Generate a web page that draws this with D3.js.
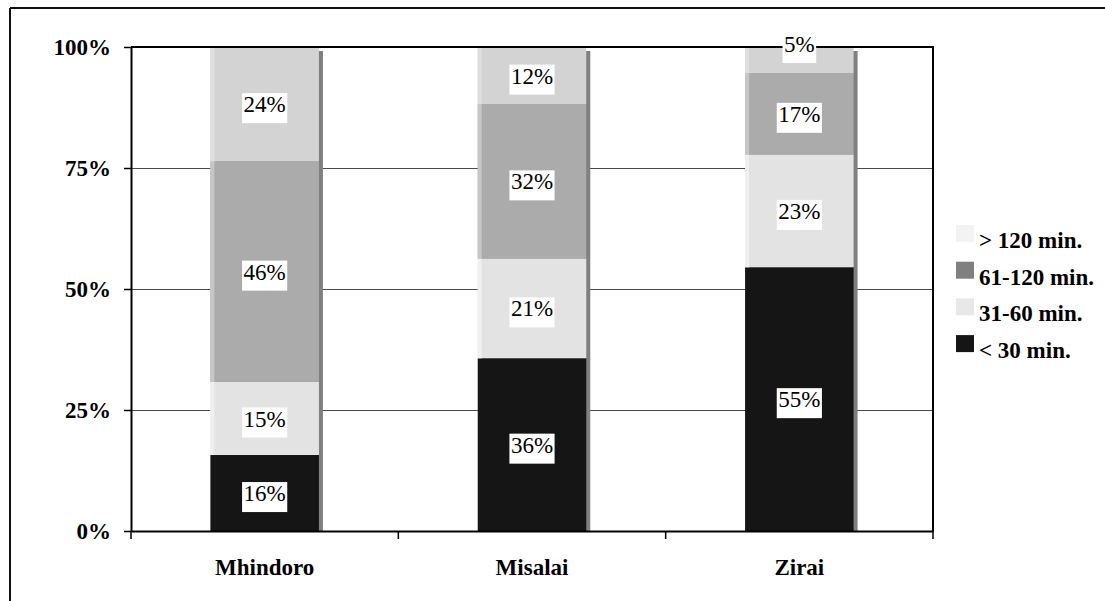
<!DOCTYPE html>
<html>
<head>
<meta charset="utf-8">
<script src="https://cdn.jsdelivr.net/npm/d3@7/dist/d3.min.js"></script>
<style>
  html, body { margin: 0; padding: 0; background: #fff; }
  svg { display: block; font-family: "Liberation Serif", "Times New Roman", serif; }
</style>
</head>
<body>
<svg id="chart" width="1105" height="601"></svg>
<script>
// ---- data ----
const categories = ["Mhindoro", "Misalai", "Zirai"];
const seriesNames = ["< 30 min.", "31-60 min.", "61-120 min.", "> 120 min."];
const lt30    = [15.7, 35.7, 54.5];
const m31to60 = [15.1, 20.6, 23.3];
const m61to120= [45.6, 31.9, 16.8];
const gt120   = [23.6, 11.8, 5.4];
const yTickValues = [0, 25, 50, 75, 100];
const legendOrder = ["> 120 min.", "61-120 min.", "31-60 min.", "< 30 min."];

const seriesValues = [lt30, m31to60, m61to120, gt120];

// ---- layout ----
const svg = d3.select("#chart");
const X0 = 131, X1 = 933, Y0 = 531, Y1 = 47;

const defs = svg.append("defs");
defs.append("clipPath").attr("id", "plotClip").append("rect")
  .attr("x", X0).attr("y", Y1).attr("width", X1 - X0).attr("height", Y0 - Y1);

const barFill = ["#151515", "#e3e3e3", "#ababab", "#d3d3d3"];
const edgeFill = [null, "#f0f0f0", "#c6c6c6", "#dedede"];
const legendFill = {"> 120 min.": "#f3f3f3", "61-120 min.": "#808080", "31-60 min.": "#e8e8e8", "< 30 min.": "#151515"};

const x = d3.scaleBand().domain(categories).range([X0, X1]).padding(0);
const y = d3.scaleLinear().domain([0, 100]).range([Y0, Y1]);
const barW = x.bandwidth() * 0.406;

// outer frame (only top and left visible)
svg.append("line").attr("x1", 10).attr("x2", 1105).attr("y1", 8).attr("y2", 8).attr("stroke", "#111").attr("stroke-width", 2);
svg.append("line").attr("x1", 10).attr("x2", 10).attr("y1", 8).attr("y2", 601).attr("stroke", "#111").attr("stroke-width", 2);

// gridlines
svg.append("g").selectAll("line").data(yTickValues.filter(v => v > 0 && v < 100)).join("line")
  .attr("x1", X0).attr("x2", X1).attr("y1", d => Math.round(y(d)) + 0.5).attr("y2", d => Math.round(y(d)) + 0.5)
  .attr("stroke", "#4a4a4a").attr("stroke-width", 1);

// stacked data
const stacked = categories.map((c, i) => {
  let acc = 0;
  return seriesValues.map((s, k) => {
    const seg = {cat: c, k, v: s[i], y0: acc, y1: acc + s[i]};
    acc += s[i];
    return seg;
  });
});

// shadows
const gBars = svg.append("g");
gBars.append("g").attr("clip-path", "url(#plotClip)").selectAll("rect").data(categories).join("rect")
  .attr("x", d => x(d) + x.bandwidth() / 2 - barW / 2 + 4)
  .attr("y", d => y(d3.sum(seriesValues, s => s[categories.indexOf(d)])) + 4)
  .attr("width", barW)
  .attr("height", d => Y0 - y(d3.sum(seriesValues, s => s[categories.indexOf(d)])))
  .attr("fill", "#808080");

// segments
stacked.forEach(segs => {
  segs.forEach(s => {
    const bx = x(s.cat) + x.bandwidth() / 2 - barW / 2;
    gBars.append("rect").attr("x", bx).attr("y", y(s.y1)).attr("width", barW)
      .attr("height", y(s.y0) - y(s.y1)).attr("fill", barFill[s.k]);
    if (edgeFill[s.k]) {
      gBars.append("rect").attr("x", bx).attr("y", y(s.y1)).attr("width", 4)
        .attr("height", y(s.y0) - y(s.y1)).attr("fill", edgeFill[s.k]);
    }
  });
});

// plot border (top, right) and axes
svg.append("line").attr("x1", X0).attr("x2", X1 + 1).attr("y1", Y1).attr("y2", Y1).attr("stroke", "#000").attr("stroke-width", 2);
svg.append("line").attr("x1", X1).attr("x2", X1).attr("y1", Y1).attr("y2", Y0).attr("stroke", "#000").attr("stroke-width", 2);

const yAxis = svg.append("g").attr("transform", `translate(${X0},0)`)
  .call(d3.axisLeft(y).tickValues(yTickValues).tickFormat(d => d + "%").tickSize(7).tickSizeOuter(0));
yAxis.select(".domain").attr("stroke", "#000").attr("stroke-width", 2);
yAxis.selectAll(".tick line").attr("stroke", "#000").attr("stroke-width", 1.5);
yAxis.selectAll(".tick text").attr("x", -20).attr("dy", "0.33em")
  .attr("font-family", "Liberation Serif, Times New Roman, serif").attr("font-size", 23).attr("font-weight", "bold").attr("fill", "#000");

const xAxis = svg.append("g").attr("transform", `translate(0,${Y0})`)
  .call(d3.axisBottom(x).tickSize(0).tickSizeOuter(0));
xAxis.select(".domain").attr("stroke", "#000").attr("stroke-width", 2);
xAxis.selectAll(".tick text").attr("y", 44).attr("dy", 0)
  .attr("font-family", "Liberation Serif, Times New Roman, serif").attr("font-size", 23).attr("font-weight", "bold").attr("fill", "#000");
// tick marks at category boundaries
const bounds = categories.map(c => x(c)).concat([X1]);
svg.append("g").selectAll("line").data(bounds).join("line")
  .attr("x1", d => d).attr("x2", d => d).attr("y1", Y0).attr("y2", Y0 + 8)
  .attr("stroke", "#000").attr("stroke-width", 1.5);

// data labels
const gLab = svg.append("g");
stacked.forEach(segs => {
  segs.forEach(s => {
    const cx = x(s.cat) + x.bandwidth() / 2;
    const segH = y(s.y0) - y(s.y1);
    const cy = segH < 30 ? y(s.y1) - 3 : (y(s.y0) + y(s.y1)) / 2;
    const g = gLab.append("g");
    const t = g.append("text").attr("x", cx).attr("y", cy).attr("dy", "0.35em")
      .attr("text-anchor", "middle").attr("font-size", 23).attr("fill", "#000")
      .text(Math.round(s.v) + "%");
    const bb = t.node().getBBox();
    g.insert("rect", "text").attr("x", bb.x - 1.5).attr("y", bb.y + 1).attr("width", bb.width + 3)
      .attr("height", bb.height + 5).attr("fill", "#fff");
  });
});

// legend
const lg = svg.append("g");
legendOrder.forEach((name, i) => {
  const ty = 225 + i * 36.7;
  lg.append("rect").attr("x", 956).attr("y", ty).attr("width", 18).attr("height", 17).attr("fill", legendFill[name]);
  lg.append("text").attr("x", 979).attr("y", ty + 23).attr("font-size", 23).attr("font-weight", "bold")
    .attr("fill", "#000").text(name);
});
</script>
</body>
</html>
